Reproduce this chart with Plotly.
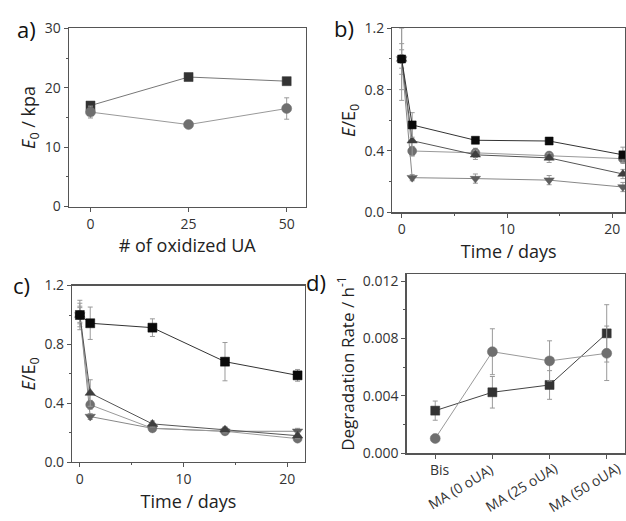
import plotly.graph_objects as go

# ---------------- data ----------------
a_x = [0, 25, 50]
a_sq = [17.0, 21.8, 21.1]
a_sq_err = [0.6, 0.4, 0.4]
a_ci = [15.9, 13.8, 16.5]
a_ci_err = [1.0, 0.4, 1.8]

days = [0, 1, 7, 14, 21]
b_sq = [1.0, 0.57, 0.47, 0.465, 0.375]
b_sq_err = [0.2, 0.08, 0.02, 0.02, 0.05]
b_up = [1.0, 0.467, 0.375, 0.355, 0.25]
b_up_err = [0.27, 0.1, 0.03, 0.03, 0.03]
b_ci = [1.0, 0.40, 0.388, 0.37, 0.35]
b_ci_err = [0.06, 0.03, 0.03, 0.02, 0.03]
b_dn = [1.0, 0.226, 0.22, 0.21, 0.165]
b_dn_err = [0.1, 0.02, 0.03, 0.03, 0.03]

c_sq = [1.0, 0.944, 0.914, 0.683, 0.59]
c_sq_err = [0.05, 0.11, 0.06, 0.13, 0.04]
c_up = [1.0, 0.47, 0.26, 0.22, 0.18]
c_up_err = [0.1, 0.09, 0.02, 0.02, 0.02]
c_ci = [1.0, 0.39, 0.23, 0.21, 0.16]
c_ci_err = [0.08, 0.03, 0.02, 0.02, 0.02]
c_dn = [1.0, 0.31, 0.23, 0.21, 0.21]
c_dn_err = [0.06, 0.02, 0.02, 0.02, 0.02]

d_cats = ["Bis", "MA (0 oUA)", "MA (25 oUA)", "MA (50 oUA)"]
d_idx = [0, 1, 2, 3]
d_sq = [0.00297, 0.00425, 0.00476, 0.00836]
d_sq_err = [0.00067, 0.0011, 0.001, 0.002]
d_ci = [0.00103, 0.00708, 0.00644, 0.00697]
d_ci_err = [0.0, 0.0016, 0.0014, 0.0019]

# ---------------- style ----------------
W, H = 626, 521
FONT = "Open Sans, Liberation Sans, Arial, sans-serif"
C_SQ_DARK = "#333333"
C_SQ_BLACK = "#0a0a0a"
C_UP = "#3f3f3f"
C_CI = "#6f6f6f"
C_DN = "#5e5e5e"
ERR_C = "#9a9a9a"
FRAME = "#555555"
TICKF = dict(family=FONT, size=14, color="#333333")

fig = go.Figure()


def add(x, y, err, color, symbol, size, xa, ya, line_color, lw=1):
    fig.add_trace(go.Scatter(
        x=x, y=y, mode="lines+markers",
        xaxis=xa, yaxis=ya,
        line=dict(color=line_color, width=lw),
        marker=dict(color=color, symbol=symbol, size=size,
                    line=dict(width=0.5, color=color)),
        error_y=dict(type="data", array=err, visible=True,
                     color=ERR_C, thickness=1, width=2.5),
        showlegend=False, cliponaxis=False))


# panel a
add(a_x, a_sq, a_sq_err, C_SQ_DARK, "square", 9, "x", "y", "#777777")
add(a_x, a_ci, a_ci_err, C_CI, "circle", 10, "x", "y", "#999999")

# panel b
add(days, b_dn, b_dn_err, C_DN, "triangle-down", 9, "x2", "y2", "#888888")
add(days, b_ci, b_ci_err, C_CI, "circle", 9, "x2", "y2", "#999999")
add(days, b_up, b_up_err, C_UP, "triangle-up", 9, "x2", "y2", "#555555")
add(days, b_sq, b_sq_err, C_SQ_BLACK, "square", 8, "x2", "y2", "#333333")

# panel c
add(days, c_dn, c_dn_err, C_DN, "triangle-down", 9, "x3", "y3", "#888888")
add(days, c_ci, c_ci_err, C_CI, "circle", 9, "x3", "y3", "#999999")
add(days, c_up, c_up_err, C_UP, "triangle-up", 9, "x3", "y3", "#555555")
add(days, c_sq, c_sq_err, C_SQ_BLACK, "square", 9, "x3", "y3", "#333333")

# panel d
add(d_idx, d_sq, d_sq_err, C_SQ_DARK, "square", 9, "x4", "y4", "#444444")
add(d_idx, d_ci, d_ci_err, C_CI, "circle", 10, "x4", "y4", "#999999")


def px_x(p):
    return p / W


def px_y(p):
    return 1 - p / H


def axis(domain, rng, tickvals, ticktext=None, title=None, anchor=None,
         showlabels=True, minor_dtick=None, title_size=18, standoff=None):
    d = dict(domain=domain, range=rng, tickvals=tickvals,
             showgrid=False, zeroline=False, showline=True, mirror=True,
             linecolor=FRAME, linewidth=1.3, ticks="outside", ticklen=4,
             tickcolor=FRAME, tickfont=TICKF, showticklabels=showlabels,
             anchor=anchor, fixedrange=True)
    if ticktext is not None:
        d["ticktext"] = ticktext
    if title is not None:
        d["title"] = dict(text=title, font=dict(family=FONT, size=title_size,
                                                color="#222222"))
        if standoff is not None:
            d["title"]["standoff"] = standoff
    if minor_dtick is not None:
        d["minor"] = dict(dtick=minor_dtick, ticks="outside", ticklen=2,
                          tickcolor=FRAME, showgrid=False)
    return d


fig.update_layout(
    width=W, height=H,
    margin=dict(l=0, r=0, t=0, b=0),
    paper_bgcolor="white", plot_bgcolor="white",
    font=dict(family=FONT),
    hovermode=False,
    xaxis=axis([px_x(69), px_x(306)], [-5.5, 54.8], [0, 25, 50],
               title="# of oxidized UA", anchor="y", standoff=6),
    yaxis=axis([px_y(204), px_y(19)], [0, 30], [0, 10, 20, 30],
               title="<i>E</i><sub>0</sub> / kpa", anchor="x",
               minor_dtick=5, standoff=4),
    xaxis2=axis([px_x(393), 1.0], [-0.88, 21.2], [0, 10, 20],
                title="Time / days", anchor="y2", minor_dtick=5, standoff=8),
    yaxis2=axis([px_y(210), px_y(19)], [0, 1.2], [0, 0.4, 0.8, 1.2],
                ticktext=["0.0", "0.4", "0.8", "1.2"],
                title="<i>E</i>/E<sub>0</sub>", anchor="x2",
                minor_dtick=0.2, standoff=4),
    xaxis3=axis([px_x(72.3), px_x(305.3)], [-0.74, 21.7], [0, 10, 20],
                title="Time / days", anchor="y3", minor_dtick=5, standoff=8),
    yaxis3=axis([px_y(469.3), px_y(286)], [0, 1.2], [0, 0.4, 0.8, 1.2],
                ticktext=["0.0", "0.4", "0.8", "1.2"],
                title="<i>E</i>/E<sub>0</sub>", anchor="x3",
                minor_dtick=0.2, standoff=4),
    xaxis4=axis([px_x(407.3), 1.0], [-0.5, 3.32], d_idx, anchor="y4",
                showlabels=False),
    yaxis4=axis([px_y(460), px_y(274)], [0, 0.0125],
                [0, 0.004, 0.008, 0.012],
                ticktext=["0.000", "0.004", "0.008", "0.012"],
                title="Degradation Rate / h<sup>-1</sup>", anchor="x4",
                minor_dtick=0.002, title_size=17, standoff=4),
)

annots = []
# category labels for panel d (label-centre offsets in px from category)
lab_shift = [(5, -16), (-32, -33), (-29, -34), (-23, -34)]
lab_angle = [0, -31, -31, -31]
for i, lab in enumerate(d_cats):
    annots.append(dict(
        x=d_idx[i], y=0, xref="x4", yref="y4",
        text=lab, showarrow=False, textangle=lab_angle[i],
        xanchor="center", yanchor="middle",
        xshift=lab_shift[i][0], yshift=lab_shift[i][1],
        font=dict(family=FONT, size=14, color="#333333")))

# panel letters
for txt, xp, yp in [("a)", 27, 20), ("b)", 345, 19), ("c)", 22, 285), ("d)", 317, 282)]:
    annots.append(dict(x=px_x(xp), y=px_y(yp), xref="paper", yref="paper",
                       text=txt, showarrow=False, xanchor="center",
                       yanchor="middle",
                       font=dict(family=FONT, size=22, color="#111111")))
fig.update_layout(annotations=annots)

fig.write_html(
    "out.html",
    config={"displayModeBar": False, "staticPlot": True},
    post_script="document.body.style.margin='0';"
                "document.body.style.overflow='hidden';")
